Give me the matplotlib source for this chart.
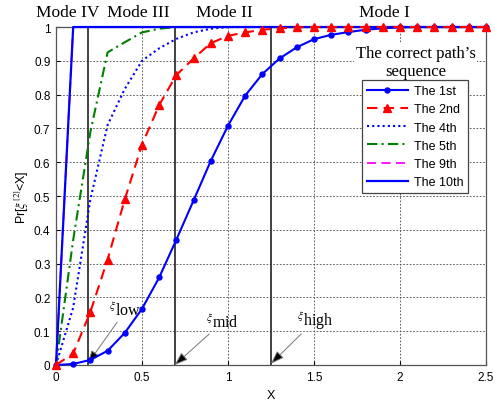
import numpy as np
import matplotlib
matplotlib.use('Agg')
import matplotlib.pyplot as plt

plt.rcParams['font.family'] = ['Liberation Sans', 'DejaVu Sans']
plt.rcParams['mathtext.fontset'] = 'stix'

# x grid of the curves
x = np.round(np.arange(0, 2.51, 0.1), 1)

# CDF values
p1 = [0, 0.003, 0.015, 0.042, 0.095, 0.166, 0.259, 0.371, 0.487, 0.604,
      0.708, 0.797, 0.861, 0.907, 0.94, 0.964, 0.977, 0.985, 0.992, 0.996,
      0.999, 1, 1, 1, 1, 1]
p2 = [0, 0.034, 0.157, 0.312, 0.49, 0.652, 0.769, 0.858, 0.907, 0.952,
      0.974, 0.984, 0.992, 0.996, 0.999, 1, 1, 1, 1, 1,
      1, 1, 1, 1, 1, 1]
p4 = [0, 0.17, 0.49, 0.71, 0.817, 0.90, 0.937, 0.965, 0.984, 0.995,
      1, 1, 1, 1, 1, 1, 1, 1, 1, 1,
      1, 1, 1, 1, 1, 1]
p5 = [0, 0.37, 0.69, 0.925, 0.955, 0.984, 0.995, 1, 1, 1,
      1, 1, 1, 1, 1, 1, 1, 1, 1, 1,
      1, 1, 1, 1, 1, 1]
p9 = [0, 1, 1, 1, 1, 1, 1, 1, 1, 1,
      1, 1, 1, 1, 1, 1, 1, 1, 1, 1,
      1, 1, 1, 1, 1, 1]
p10 = [0, 1, 1, 1, 1, 1, 1, 1, 1, 1,
       1, 1, 1, 1, 1, 1, 1, 1, 1, 1,
       1, 1, 1, 1, 1, 1]

# mode boundaries
xi_low, xi_mid, xi_high = 0.185, 0.69, 1.25
modes = ['Mode IV', 'Mode III', 'Mode II', 'Mode I']
mode_x = [0.07, 0.48, 0.98, 1.91]

fig = plt.figure(figsize=(4.95, 4.02), dpi=100)
ax = fig.add_axes([0.1131, 0.0896, 0.8687, 0.8407])

for xv in [xi_low, xi_mid, xi_high]:
    ax.axvline(xv, color='#333333', lw=1.3, zorder=2)

ax.plot(x, p1, '-', color='#0000ff', lw=1.5, marker='o', ms=3.6,
        label='The 1st', clip_on=False, zorder=4)
ax.plot(x, p2, color='#ff0000', lw=1.5, ls=(0, (5, 3)), marker='^', ms=5.8,
        label='The 2nd', clip_on=False, zorder=4)
ax.plot(x, p4, color='#0000ff', lw=1.5, ls=(0, (1, 1.5)),
        label='The 4th', clip_on=False, zorder=3)
ax.plot(x, p5, color='#008000', lw=1.5, ls=(0, (5, 2, 1, 2)),
        label='The 5th', clip_on=False, zorder=3)
ax.plot(x, p9, color='#ff00ff', lw=1.3, ls=(0, (5, 3)),
        label='The 9th', clip_on=False, zorder=3)
ax.plot(x, p10, '-', color='#0000ff', lw=1.6,
        label='The 10th', clip_on=False, zorder=3)

ax.set_xlim(0, 2.5)
ax.set_ylim(0, 1)
ax.set_xticks([0, 0.5, 1, 1.5, 2, 2.5])
ax.set_xticklabels(['0', '0.5', '1', '1.5', '2', '2.5'])
ax.set_yticks(np.round(np.arange(0, 1.01, 0.1), 1))
ax.set_yticklabels(['0', '0.1', '0.2', '0.3', '0.4', '0.5', '0.6', '0.7',
                    '0.8', '0.9', '1'])
ax.tick_params(direction='in', labelsize=8.5, length=3, pad=4)
ax.grid(True, ls=(0, (2, 2)), color='#444444', lw=0.6)
for s in ax.spines.values():
    s.set_color('#555555')
    s.set_linewidth(0.9)

ax.set_xlabel('X', fontsize=9, labelpad=5)
ax.set_ylabel(r'Pr[$\xi^{[2]}$<X]', fontsize=9, labelpad=2)

for m, mx in zip(modes, mode_x):
    ax.text(mx, 1.044, m, ha='center', va='center', fontsize=12.5,
            family='Liberation Serif', clip_on=False)

# labels of the boundaries
arrow = dict(arrowstyle='-|>,head_length=0.7,head_width=0.25',
             ec='#777777', fc='k', lw=0.7, shrinkA=0, shrinkB=0)
ax.annotate(r'$^{\xi}$low', xy=(xi_low, 0.004), xytext=(0.31, 0.135),
            fontsize=11.5, family='Liberation Serif', ha='left', va='bottom',
            arrowprops=arrow)
ax.annotate(r'$^{\xi}$mid', xy=(xi_mid, 0.0), xytext=(0.87, 0.10),
            fontsize=11.5, family='Liberation Serif', ha='left', va='bottom',
            arrowprops=arrow)
ax.annotate(r'$^{\xi}$high', xy=(xi_high, 0.004), xytext=(1.40, 0.10),
            fontsize=11.5, family='Liberation Serif', ha='left', va='bottom',
            arrowprops=arrow)

ax.text(2.09, 0.897, 'The correct path\u2019s\nsequence', ha='center',
        va='center', fontsize=12, family='Liberation Serif', linespacing=1.2,
        bbox=dict(fc='white', ec='none', pad=1), zorder=5)

leg = ax.legend(loc='upper left', bbox_to_anchor=(0.711, 0.843),
                borderaxespad=0, fontsize=9, fancybox=False, framealpha=1,
                edgecolor='#444444', handlelength=3.3, handletextpad=0.45,
                labelspacing=0.5, numpoints=1, borderpad=0.4)
leg.get_frame().set_linewidth(0.9)
leg.set_zorder(6)

plt.savefig('out.png', dpi=100)
